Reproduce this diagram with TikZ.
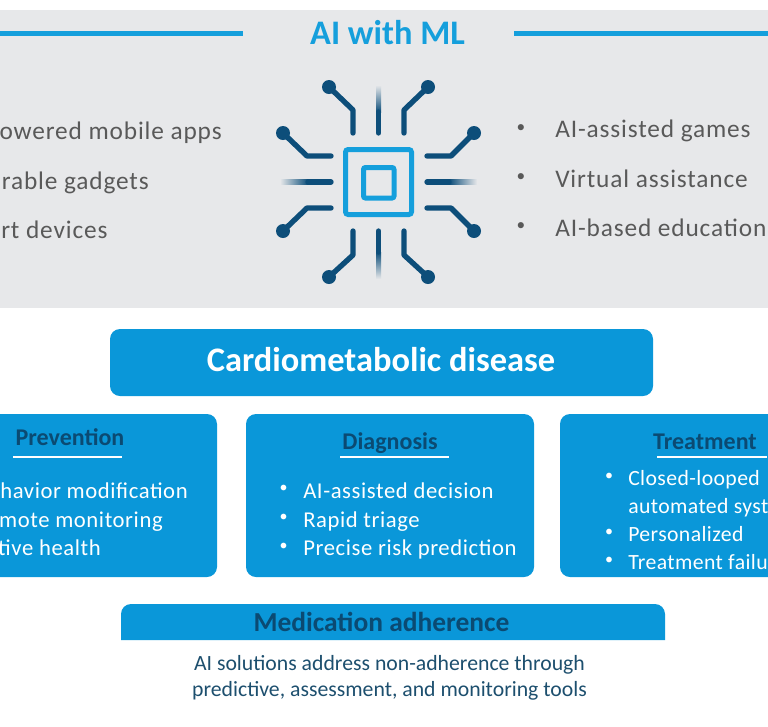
\documentclass[tikz,border=0pt]{standalone}
\usepackage{fontspec}
\setmainfont{Carlito}
\definecolor{panelgrey}{HTML}{E7E8EA}
\definecolor{boxblue}{HTML}{0A97D9}
\definecolor{chipblue}{HTML}{159FDC}
\definecolor{darkblue}{HTML}{0D4E7A}
\definecolor{titleblue}{HTML}{0B4A72}
\definecolor{notetext}{HTML}{1D4F6E}
\definecolor{textgrey}{HTML}{595959}
\tikzset{
  paneltext/.style={font=\fontsize{19}{22}\selectfont\addfontfeature{LetterSpace=3.4},text=textgrey,inner sep=0pt},
  paneldot/.style={font=\fontsize{13}{15}\selectfont,text=textgrey,inner sep=0pt,anchor=center},
  boxtext/.style={font=\fontsize{17}{20}\selectfont\addfontfeature{LetterSpace=2.6},text=white,inner sep=0pt},
  boxtight/.style={font=\fontsize{16.3}{19}\selectfont\addfontfeature{LetterSpace=1.8},text=white,inner sep=0pt},
  boxdot/.style={font=\fontsize{12}{14}\selectfont,text=white,inner sep=0pt,anchor=center},
  boxtitle/.style={font=\fontsize{18}{21}\selectfont\bfseries,text=titleblue,inner sep=0pt,anchor=base},
  bluebox/.style={fill=boxblue,rounded corners=7.5pt},
  notetxt/.style={font=\fontsize{16.3}{19}\selectfont,text=notetext,inner sep=0pt,anchor=base},
  wire/.style={draw=darkblue,line width=4pt,line cap=round,line join=round},
  pin/.style={circle,fill=darkblue,inner sep=0pt,minimum size=10.5pt},
  rule/.style={draw=white,line width=1pt},
}
\begin{document}
\begin{tikzpicture}[x=0.75pt,y=-0.75pt]
\useasboundingbox (0,0) rectangle (768,726);
% grey panel
\fill[panelgrey] (0,10) rectangle (768,308);
\fill[chipblue] (0,30.5) rectangle (243,35.5);
\fill[chipblue] (514,30.5) rectangle (768,35.5);
\node[font=\fontsize{25.8}{29}\selectfont\bfseries,text=chipblue,inner sep=0pt,anchor=base] (head) at (387.5,44) {AI with ML};
% chip
\draw[chipblue,line width=3.75pt,rounded corners=2pt] (345.5,149.5) rectangle (411.5,214.5);
\draw[chipblue,line width=3.75pt,rounded corners=1.5pt] (363.5,167.5) rectangle (394,198);
\node[pin] (p1) at (329,87) {};
\node[pin] (p2) at (428,87) {};
\node[pin] (p3) at (283,133) {};
\node[pin] (p4) at (474,133) {};
\node[pin] (p5) at (283,231) {};
\node[pin] (p6) at (474,231) {};
\node[pin] (p7) at (329,277) {};
\node[pin] (p8) at (428,277) {};
\draw[wire] (p1.center) -- (353,110) -- (353,133);
\draw[wire] (p2.center) -- (404,110) -- (404,133);
\draw[wire] (p3.center) -- (307,156) -- (331,156);
\draw[wire] (p4.center) -- (451,156) -- (427,156);
\draw[wire] (p5.center) -- (307,208) -- (331,208);
\draw[wire] (p6.center) -- (451,208) -- (427,208);
\draw[wire] (p7.center) -- (353,255) -- (353,231);
\draw[wire] (p8.center) -- (404,255) -- (404,231);
% fading wires
\shade[top color=panelgrey,bottom color=darkblue] (376,85) rectangle (381,112);
\shade[bottom color=panelgrey,top color=darkblue] (376,252) rectangle (381,279);
\shade[left color=panelgrey,right color=darkblue] (280,179.5) rectangle (308,184.5);
\shade[right color=panelgrey,left color=darkblue] (449,179.5) rectangle (477,184.5);
\draw[wire] (378.5,112) -- (378.5,133);
\draw[wire] (378.5,252) -- (378.5,231);
\draw[wire] (308,182) -- (331,182);
\draw[wire] (449,182) -- (427,182);
% panel lists
\node[paneltext,anchor=base east] (l1) at (222,139) {owered mobile apps};
\node[paneltext,anchor=base east] (l2) at (149,189) {rable gadgets};
\node[paneltext,anchor=base west] (l3) at (1,238) {rt devices};
\node[paneldot] (d1) at (521,129) {•};
\node[paneldot] (d2) at (521,178) {•};
\node[paneldot] (d3) at (521,227) {•};
\node[paneltext,anchor=base west] (r1) at (555,137) {AI-assisted games};
\node[paneltext,anchor=base west] (r2) at (555,187) {Virtual assistance};
\node[paneltext,anchor=base west] (r3) at (555,236) {AI-based education};
% main box
\fill[bluebox] (110,329) rectangle (653,396);
\node[font=\fontsize{25.8}{29}\selectfont\bfseries,text=white,inner sep=0pt,anchor=base] (main) at (381,371) {Cardiometabolic disease};
% three boxes
\fill[bluebox] (-20,414) rectangle (217,577);
\fill[bluebox] (246,414) rectangle (534,577);
\fill[bluebox] (560,414) rectangle (790,577);
\node[boxtitle] (prev) at (70,445) {Prevention};
\node[boxtitle] (diag) at (390,449) {Diagnosis};
\node[boxtitle] (treat) at (705,449) {Treatment};
\draw[rule] (13,457) -- (122,457);
\draw[rule] (340,457) -- (449,457);
\draw[rule] (657,457) -- (767,457);
\node[boxtext,anchor=base east] (a1) at (188,498) {havior modification};
\node[boxtext,anchor=base east] (a2) at (163,527) {mote monitoring};
\node[boxtext,anchor=base east] (a3) at (101,555) {tive health};
\node[boxdot] (b1) at (283.5,489) {•};
\node[boxdot] (b2) at (283.5,518) {•};
\node[boxdot] (b3) at (283.5,547) {•};
\node[boxtext,anchor=base west] (c1) at (303,498) {AI-assisted decision};
\node[boxtext,anchor=base west] (c2) at (303,527) {Rapid triage};
\node[boxtext,anchor=base west] (c3) at (303,555) {Precise risk prediction};
\node[boxdot] (e1) at (609,477) {•};
\node[boxdot] (e2) at (609,533) {•};
\node[boxdot] (e3) at (609,561) {•};
\node[boxtight,anchor=base west] (f1) at (628,485) {Closed-looped};
\node[boxtight,anchor=base west] (f2) at (628,513) {automated syst};
\node[boxtight,anchor=base west] (f3) at (628,541) {Personalized};
\node[boxtight,anchor=base west] (f4) at (628,569) {Treatment failu};
% medication adherence
\fill[boxblue] (121,640) {[rounded corners=7.5pt] -- (121,604) -- (665,604)} -- (665,640) -- cycle;
\node[font=\fontsize{20.6}{24}\selectfont\bfseries,text=titleblue,inner sep=0pt,anchor=base] (med) at (381.5,631) {Medication adherence};
\node[notetxt] (note1) at (389.5,670) {AI solutions address non-adherence through};
\node[notetxt] (note2) at (389.5,696) {predictive, assessment, and monitoring tools};
\end{tikzpicture}
\end{document}
